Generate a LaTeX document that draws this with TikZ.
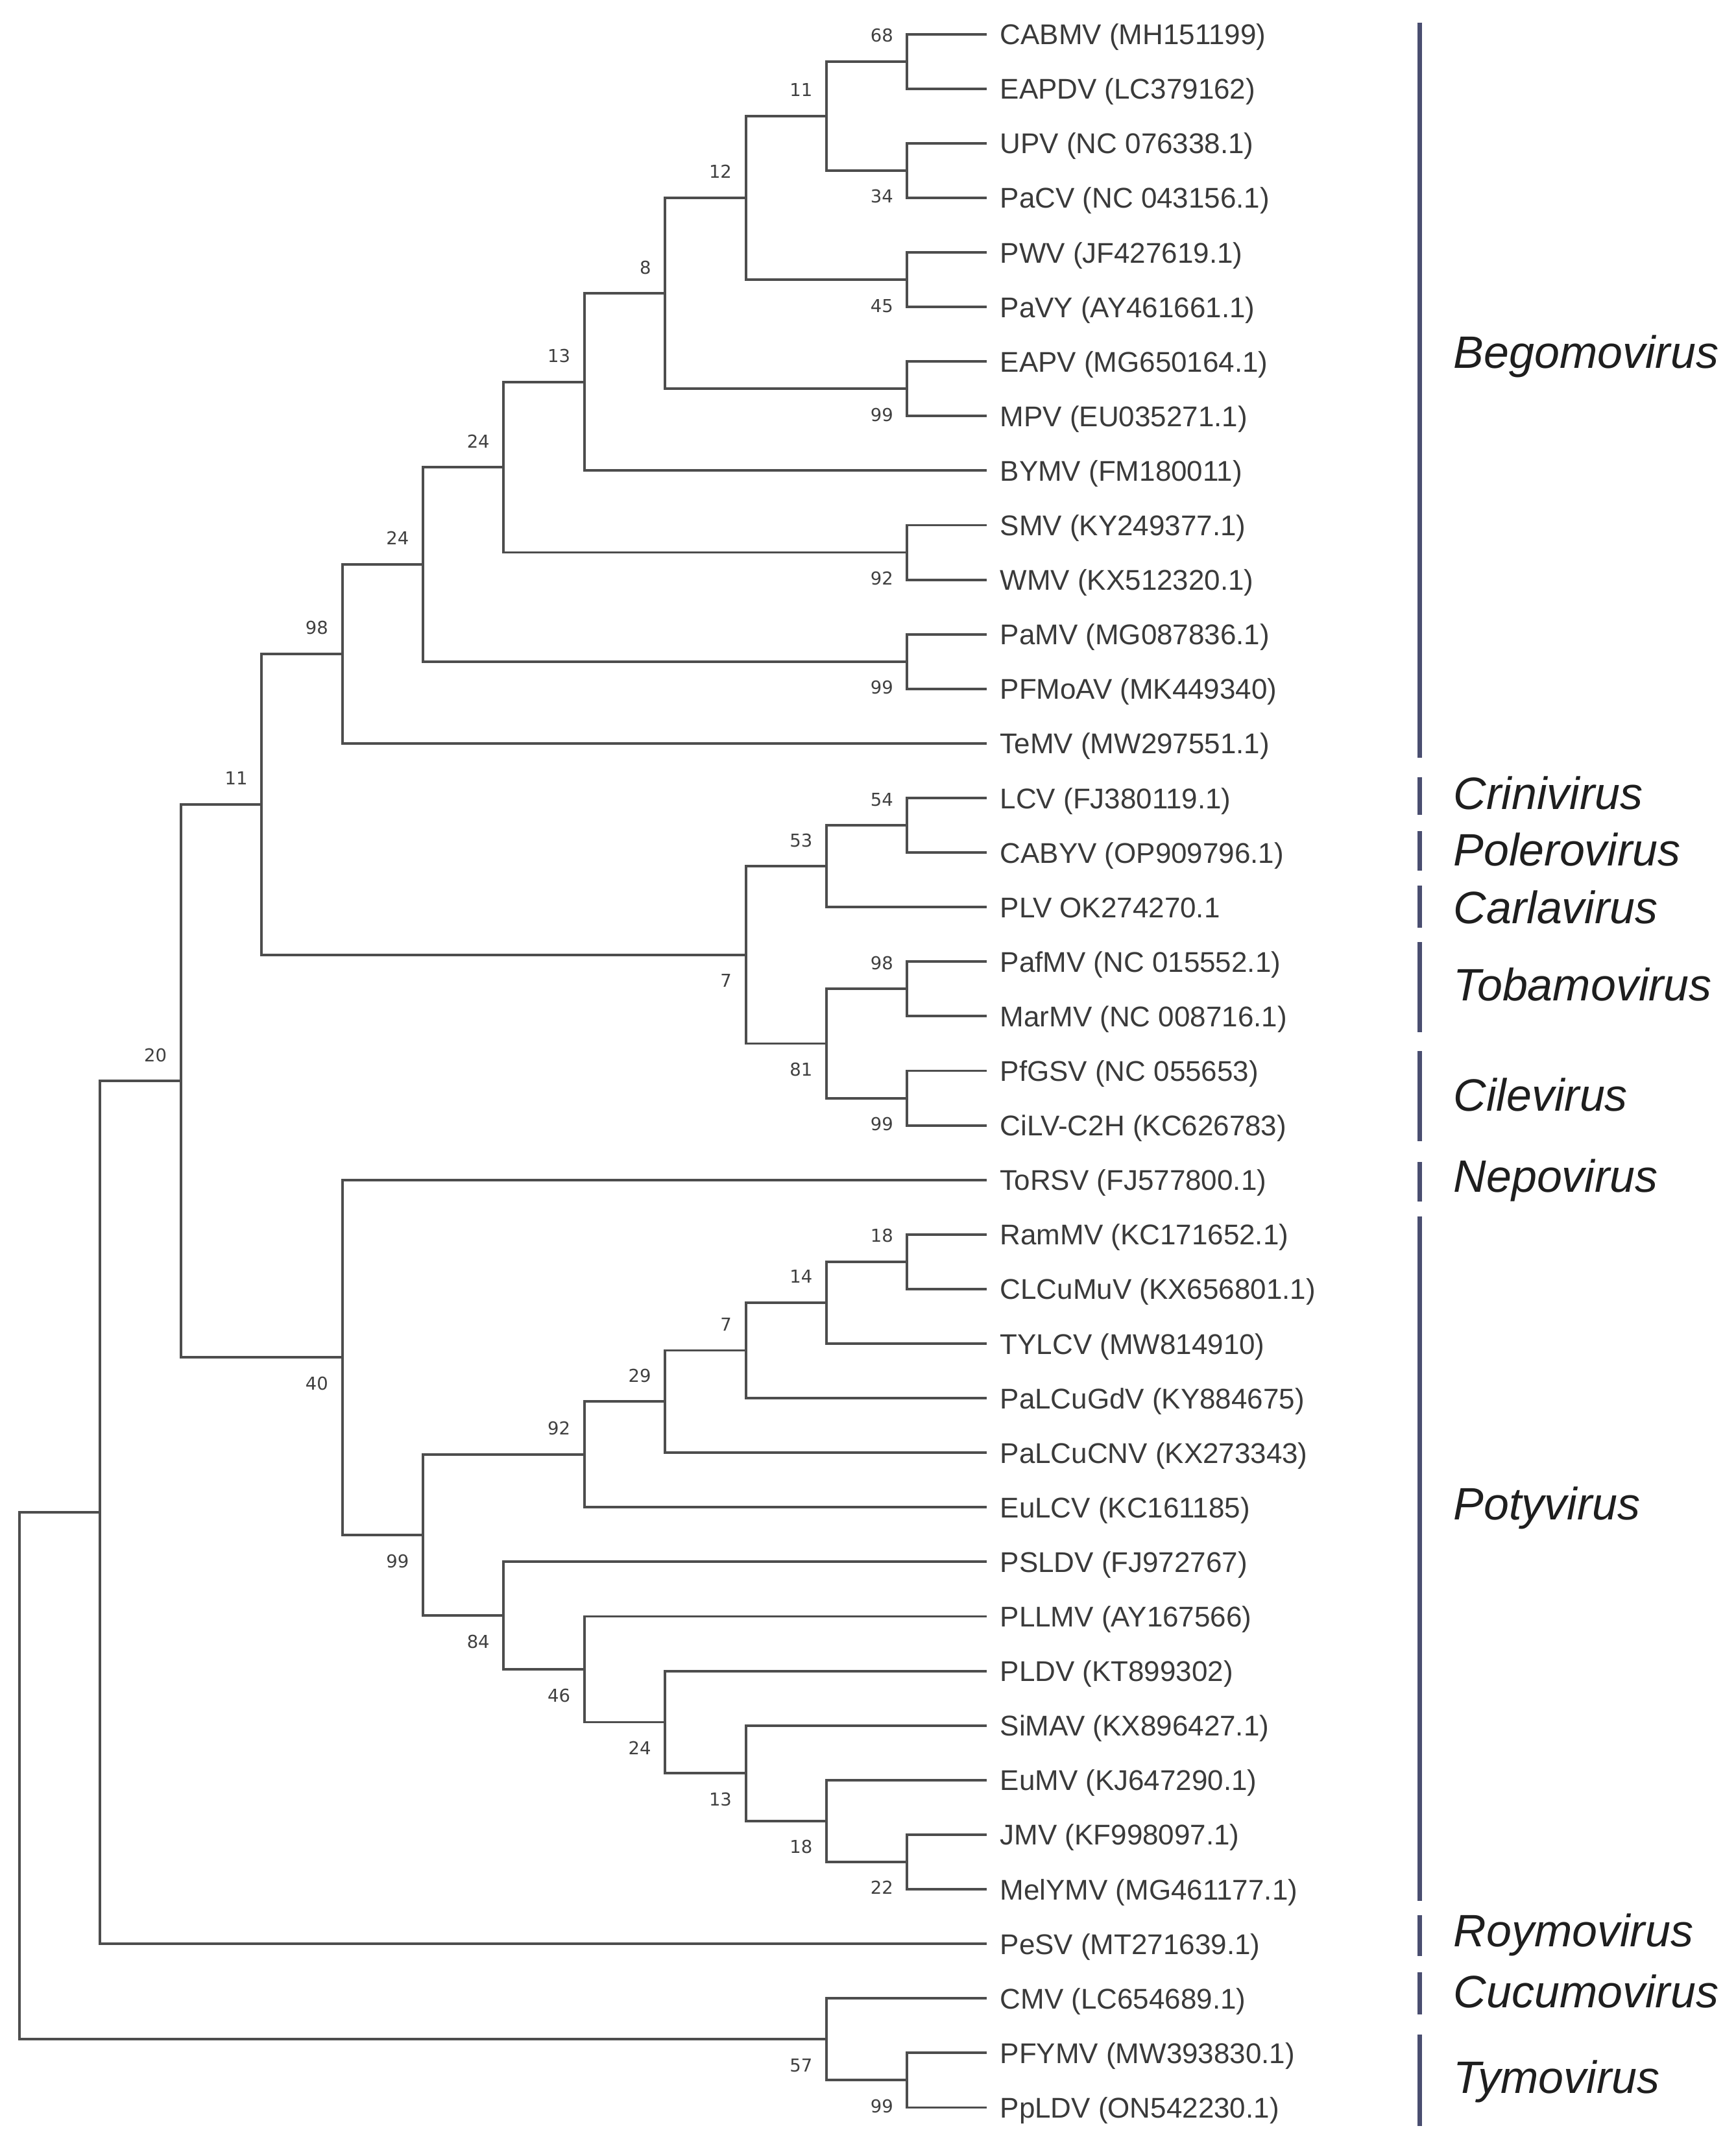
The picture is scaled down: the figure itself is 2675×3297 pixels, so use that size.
\documentclass[tikz,border=0pt]{standalone}
\usepackage{fontspec}
\setmainfont{Liberation Sans}
\newfontfamily\bootfont{DejaVu Sans}
\usetikzlibrary{calc}
\definecolor{treecol}{HTML}{4D4D4D}
\definecolor{leafcol}{HTML}{3A3A3A}
\definecolor{bootcol}{HTML}{404040}
\definecolor{groupcol}{HTML}{1E1E1E}
\definecolor{barcol}{HTML}{4A4E70}
\newcommand\mkleaf[2]{%
  \coordinate (t#1) at (1521,{52.6+84.1*#1});
  \node[leaflabel] (L#1) at (1541,{68.6+84.1*#1}) {#2};}
\newcommand\mkinode[6]{%
  \coordinate (tmp#1) at ($(#3)!0.5!(#4)$);
  \coordinate (#1) at ({30+124.4*#2},0 |- tmp#1);
  \draw[branch] (#3) -| (#1) |- (#4);
  \ifx a#5\node[bootlabel] (B#1) at ($(#1)+(-21,-30)$) {#6};%
  \else\node[bootlabel] (B#1) at ($(#1)+(-21,50)$) {#6};\fi}
\newcommand\mkjoin[4]{%
  \coordinate (tmp#1) at ($(#3)!0.5!(#4)$);
  \coordinate (#1) at ({30+124.4*#2},0 |- tmp#1);
  \draw[branch] (#3) -| (#1) |- (#4);}
\newcommand\mkgroup[5]{%
  \draw[groupbar] (2188,#2) -- (2188,#3);
  \node[grouplabel] (G#1) at (2240,#4) {#5};}
\begin{document}
\begin{tikzpicture}[x=0.01cm,y=-0.01cm,
  branch/.style={draw=treecol,line width=1.1pt},
  leaflabel/.style={anchor=base west,inner sep=0pt,text=leafcol,font=\fontsize{12.5}{15}\selectfont},
  bootlabel/.style={anchor=base east,inner sep=0pt,text=bootcol,font=\bootfont\fontsize{7.8}{9}\selectfont},
  grouplabel/.style={anchor=base west,inner sep=0pt,text=groupcol,font=\itshape\fontsize{19.9}{23}\selectfont},
  groupbar/.style={draw=barcol,line width=2pt}]
\fill[white] (0,0) rectangle (2675,3297);
\useasboundingbox (0,0) rectangle (2675,3297);

\mkleaf{0}{CABMV (MH151199)}
\mkleaf{1}{EAPDV (LC379162)}
\mkleaf{2}{UPV (NC 076338.1)}
\mkleaf{3}{PaCV (NC 043156.1)}
\mkleaf{4}{PWV (JF427619.1)}
\mkleaf{5}{PaVY (AY461661.1)}
\mkleaf{6}{EAPV (MG650164.1)}
\mkleaf{7}{MPV (EU035271.1)}
\mkleaf{8}{BYMV (FM180011)}
\mkleaf{9}{SMV (KY249377.1)}
\mkleaf{10}{WMV (KX512320.1)}
\mkleaf{11}{PaMV (MG087836.1)}
\mkleaf{12}{PFMoAV (MK449340)}
\mkleaf{13}{TeMV (MW297551.1)}
\mkleaf{14}{LCV (FJ380119.1)}
\mkleaf{15}{CABYV (OP909796.1)}
\mkleaf{16}{PLV OK274270.1}
\mkleaf{17}{PafMV (NC 015552.1)}
\mkleaf{18}{MarMV (NC 008716.1)}
\mkleaf{19}{PfGSV (NC 055653)}
\mkleaf{20}{CiLV-C2H (KC626783)}
\mkleaf{21}{ToRSV (FJ577800.1)}
\mkleaf{22}{RamMV (KC171652.1)}
\mkleaf{23}{CLCuMuV (KX656801.1)}
\mkleaf{24}{TYLCV (MW814910)}
\mkleaf{25}{PaLCuGdV (KY884675)}
\mkleaf{26}{PaLCuCNV (KX273343)}
\mkleaf{27}{EuLCV (KC161185)}
\mkleaf{28}{PSLDV (FJ972767)}
\mkleaf{29}{PLLMV (AY167566)}
\mkleaf{30}{PLDV (KT899302)}
\mkleaf{31}{SiMAV (KX896427.1)}
\mkleaf{32}{EuMV (KJ647290.1)}
\mkleaf{33}{JMV (KF998097.1)}
\mkleaf{34}{MelYMV (MG461177.1)}
\mkleaf{35}{PeSV (MT271639.1)}
\mkleaf{36}{CMV (LC654689.1)}
\mkleaf{37}{PFYMV (MW393830.1)}
\mkleaf{38}{PpLDV (ON542230.1)}

\mkinode{nA}{11}{t0}{t1}{a}{68}
\mkinode{nB}{11}{t2}{t3}{b}{34}
\mkinode{nC}{10}{nA}{nB}{a}{11}
\mkinode{nD}{11}{t4}{t5}{b}{45}
\mkinode{nE}{9}{nC}{nD}{a}{12}
\mkinode{nF}{11}{t6}{t7}{b}{99}
\mkinode{nG}{8}{nE}{nF}{a}{8}
\mkinode{nH}{7}{nG}{t8}{a}{13}
\mkinode{nI}{11}{t9}{t10}{b}{92}
\mkinode{nJ}{6}{nH}{nI}{a}{24}
\mkinode{nK}{11}{t11}{t12}{b}{99}
\mkinode{nL}{5}{nJ}{nK}{a}{24}
\mkinode{nM}{4}{nL}{t13}{a}{98}
\mkinode{nN}{11}{t14}{t15}{a}{54}
\mkinode{nO}{10}{nN}{t16}{a}{53}
\mkinode{nP}{11}{t17}{t18}{a}{98}
\mkinode{nQ}{11}{t19}{t20}{b}{99}
\mkinode{nR}{10}{nP}{nQ}{b}{81}
\mkinode{nS}{9}{nO}{nR}{b}{7}
\mkinode{nT}{3}{nM}{nS}{a}{11}
\mkinode{nU}{11}{t22}{t23}{a}{18}
\mkinode{nV}{10}{nU}{t24}{a}{14}
\mkinode{nW}{9}{nV}{t25}{a}{7}
\mkinode{nX}{8}{nW}{t26}{a}{29}
\mkinode{nY}{7}{nX}{t27}{a}{92}
\mkinode{nZ}{11}{t33}{t34}{b}{22}
\mkinode{oA}{10}{t32}{nZ}{b}{18}
\mkinode{oB}{9}{t31}{oA}{b}{13}
\mkinode{oC}{8}{t30}{oB}{b}{24}
\mkinode{oD}{7}{t29}{oC}{b}{46}
\mkinode{oE}{6}{t28}{oD}{b}{84}
\mkinode{oF}{5}{nY}{oE}{b}{99}
\mkinode{oG}{4}{t21}{oF}{b}{40}
\mkinode{oH}{2}{nT}{oG}{a}{20}
\mkjoin{oI}{1}{oH}{t35}
\mkinode{oJ}{11}{t37}{t38}{b}{99}
\mkinode{oK}{10}{t36}{oJ}{b}{57}
\mkjoin{root}{0}{oI}{oK}

\mkgroup{1}{35}{1168}{567}{Begomovirus}
\mkgroup{2}{1198}{1256}{1247}{Crinivirus}
\mkgroup{3}{1281}{1342}{1334}{Polerovirus}
\mkgroup{4}{1365}{1430}{1423}{Carlavirus}
\mkgroup{5}{1452}{1591}{1542}{Tobamovirus}
\mkgroup{6}{1620}{1759}{1712}{Cilevirus}
\mkgroup{7}{1791}{1852}{1837}{Nepovirus}
\mkgroup{8}{1875}{2930}{2342}{Potyvirus}
\mkgroup{9}{2952}{3015}{3000}{Roymovirus}
\mkgroup{10}{3040}{3105}{3094}{Cucumovirus}
\mkgroup{11}{3136}{3277}{3226}{Tymovirus}
\end{tikzpicture}
\end{document}
